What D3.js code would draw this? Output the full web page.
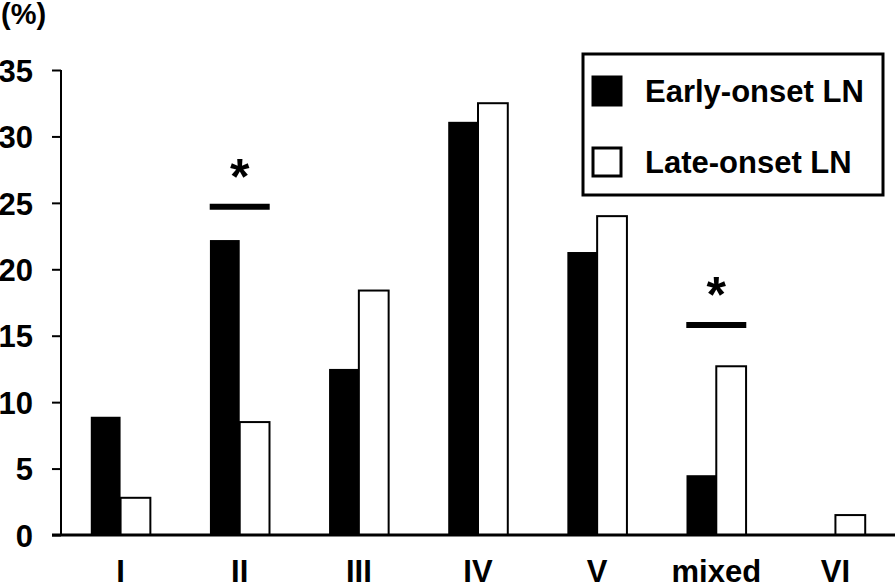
<!DOCTYPE html>
<html>
<head>
<meta charset="utf-8">
<script src="https://cdn.jsdelivr.net/npm/d3@7"></script>
<style>
  body { margin: 0; background: #fff; }
  svg { display: block; }
  text { font-family: "Liberation Sans", Arial, sans-serif; font-weight: bold; fill: #000; }
</style>
</head>
<body>
<svg id="chart"></svg>
<script>
// DATA
var categories = ["I", "II", "III", "IV", "V", "mixed", "VI"];
var early_onset = [8.9, 22.2, 12.5, 31.1, 21.3, 4.5, 0];
var late_onset = [2.8, 8.5, 18.4, 32.5, 24.0, 12.7, 1.5];
var series_names = ["Early-onset LN", "Late-onset LN"];
var y_ticks = [0, 5, 10, 15, 20, 25, 30, 35];
// significance marks: category and level of the bar
var sig_categories = ["II", "mixed"];
var sig_levels = [24.7, 15.8];

// MAIN
var width = 895, height = 583;
var svg = d3.select("#chart").attr("width", width).attr("height", height);

var x = d3.scaleBand().domain(categories).range([61, 895]).paddingInner(0).paddingOuter(0);
var barWidth = x.bandwidth() / 4;
var y = d3.scaleLinear().domain([0, 35]).range([535, 70]);

// bars
var groups = svg.append("g").selectAll("g")
    .data(categories).enter()
    .append("g")
    .attr("transform", function (d) { return "translate(" + (x(d) + x.bandwidth() / 2) + ",0)"; });

groups.append("rect")
    .attr("x", -barWidth)
    .attr("y", function (d, i) { return y(early_onset[i]); })
    .attr("width", barWidth)
    .attr("height", function (d, i) { return y(0) - y(early_onset[i]); })
    .attr("fill", "#000");

groups.append("rect")
    .attr("x", 0)
    .attr("y", function (d, i) { return y(late_onset[i]); })
    .attr("width", barWidth)
    .attr("height", function (d, i) { return y(0) - y(late_onset[i]); })
    .attr("fill", "#fff")
    .attr("stroke", "#000")
    .attr("stroke-width", 2);

// axis
var yAxis = d3.axisLeft(y).tickValues(y_ticks).tickSize(9).tickPadding(19);
var gy = svg.append("g").attr("transform", "translate(61,0)").call(yAxis);
gy.select(".domain").attr("stroke", "#000").attr("stroke-width", 2).attr("d", "M0," + y(35) + "V" + y(0));
gy.selectAll(".tick line").attr("stroke", "#000").attr("stroke-width", 2);
gy.selectAll(".tick text").style("font-size", "31px").attr("dy", "0.36em").attr("font-family", null);

// baseline
svg.append("line")
    .attr("x1", 52).attr("x2", width)
    .attr("y1", y(0)).attr("y2", y(0))
    .attr("stroke", "#000").attr("stroke-width", 3);

// category labels
svg.append("g").selectAll("text")
    .data(categories).enter()
    .append("text")
    .attr("x", function (d) { return x(d) + x.bandwidth() / 2; })
    .attr("y", 582)
    .attr("text-anchor", "middle")
    .style("font-size", "31px")
    .text(function (d) { return d; });

// unit label
svg.append("text")
    .attr("x", 1).attr("y", 24)
    .style("font-size", "29px")
    .text("(%)");

// significance marks
sig_categories.forEach(function (c, i) {
    var cx = x(c) + x.bandwidth() / 2;
    svg.append("line")
        .attr("x1", cx - 30).attr("x2", cx + 30)
        .attr("y1", y(sig_levels[i])).attr("y2", y(sig_levels[i]))
        .attr("stroke", "#000").attr("stroke-width", 6);
    svg.append("text")
        .attr("x", cx).attr("y", y(sig_levels[i]) - 13)
        .attr("text-anchor", "middle")
        .style("font-size", "50px")
        .text("*");
});

// legend
var legend = svg.append("g");
legend.append("rect")
    .attr("x", 583).attr("y", 54).attr("width", 300).attr("height", 141)
    .attr("fill", "#fff").attr("stroke", "#000").attr("stroke-width", 3);
series_names.forEach(function (name, i) {
    var ly = 77 + i * 71;
    legend.append("rect")
        .attr("x", 593).attr("y", ly).attr("width", 28).attr("height", 28)
        .attr("fill", i === 0 ? "#000" : "#fff")
        .attr("stroke", "#000").attr("stroke-width", 3);
    legend.append("text")
        .attr("x", 645).attr("y", ly + 25)
        .style("font-size", "31px")
        .text(name);
});
</script>
</body>
</html>
